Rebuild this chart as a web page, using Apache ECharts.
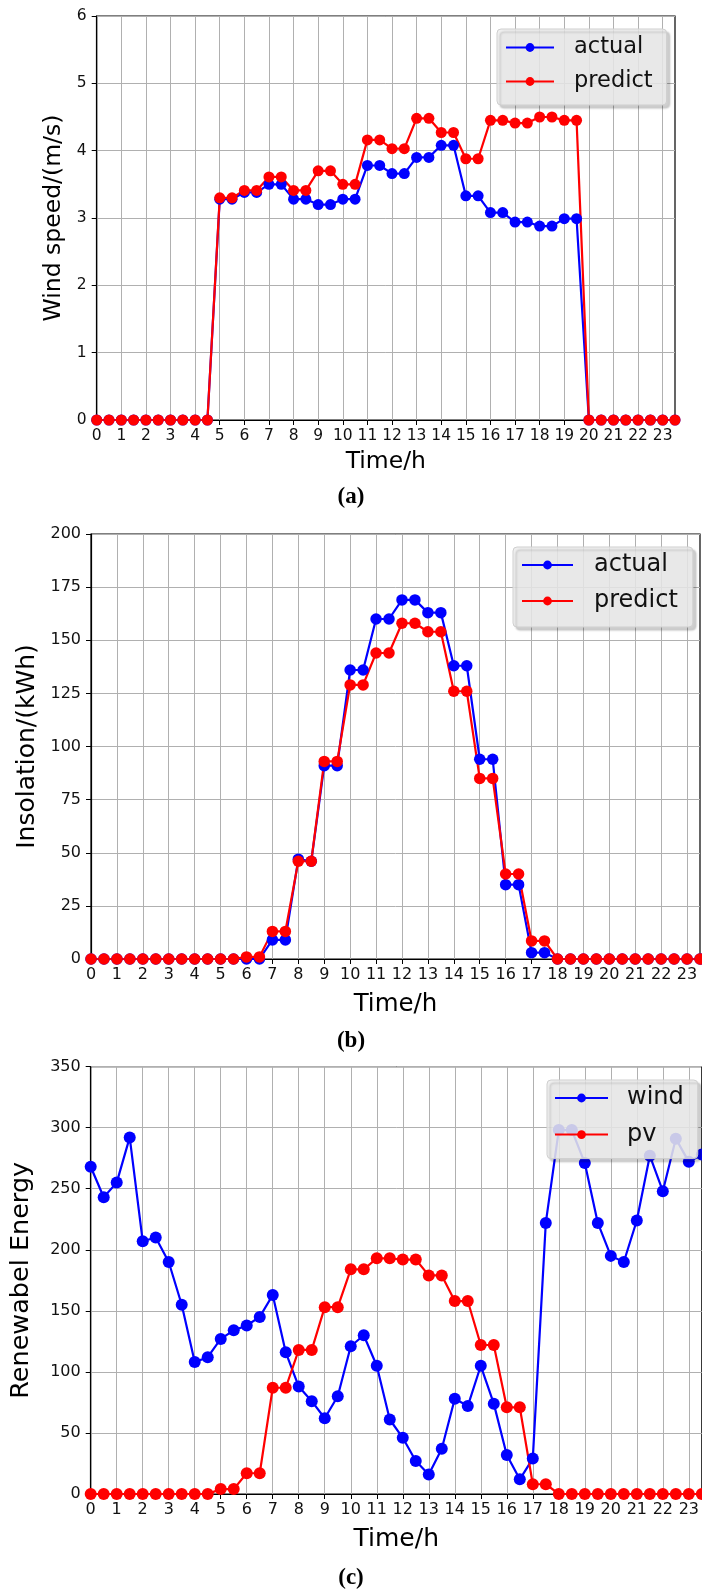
<!DOCTYPE html>
<html>
<head>
<meta charset="utf-8">
<script src="https://cdn.jsdelivr.net/npm/echarts@6/dist/echarts.min.js"></script>
<style>
html,body{margin:0;padding:0;background:#fff;}
#chart{width:702px;height:1593px;}
</style>
</head>
<body>
<div id="chart"></div>
<script>
// ---- data ----
const hours = ['0','0.5','1','1.5','2','2.5','3','3.5','4','4.5','5','5.5','6','6.5','7','7.5','8','8.5','9','9.5',
  '10','10.5','11','11.5','12','12.5','13','13.5','14','14.5','15','15.5','16','16.5','17','17.5','18','18.5','19','19.5',
  '20','20.5','21','21.5','22','22.5','23','23.5'];

const windActual = [0,0,0,0,0,0,0,0,0,0,
  3.28,3.28,3.38,3.38,3.50,3.50,3.28,3.28,3.20,3.20,
  3.28,3.28,3.78,3.78,3.66,3.66,3.90,3.90,4.08,4.08,
  3.33,3.33,3.08,3.08,2.94,2.94,2.88,2.88,2.99,2.99,
  0,0,0,0,0,0,0,0];
const windPredict = [0,0,0,0,0,0,0,0,0,0,
  3.30,3.30,3.41,3.41,3.61,3.61,3.41,3.41,3.70,3.70,
  3.50,3.50,4.16,4.16,4.03,4.03,4.48,4.48,4.27,4.27,
  3.88,3.88,4.45,4.45,4.41,4.41,4.50,4.50,4.45,4.45,
  0,0,0,0,0,0,0,0];

const insolActual = [0,0,0,0,0,0,0,0,0,0,
  0,0,0,0,9,9,47,46,91,91,
  136,136,160,160,169,169,163,163,138,138,
  94,94,35,35,3,3,0,0,0,0,
  0,0,0,0,0,0,0,0];
const insolPredict = [0,0,0,0,0,0,0,0,0,0,
  0,0,1,1,13,13,46,46,93,93,
  129,129,144,144,158,158,154,154,126,126,
  85,85,40,40,8.5,8.5,0,0,0,0,
  0,0,0,0,0,0,0,0];

const windEnergy = [268,243,255,292,207,210,190,155,108,112,
  127,134,138,145,163,116,88,76,62,80,
  121,130,105,61,46,27,16,37,78,72,
  105,74,32,12,29,222,298,298,271,222,
  195,190,224,277,248,291,272,278];
const pvEnergy = [0,0,0,0,0,0,0,0,0,0,
  4,4,17,17,87,87,118,118,153,153,
  184,184,193,193,192,192,179,179,158,158,
  122,122,71,71,8,8,0,0,0,0,
  0,0,0,0,0,0,0,0];

const yMaxA = 6, yStepA = 1;
const yMaxB = 200, yStepB = 25;
const yMaxC = 350, yStepC = 50;

// ---- chart ----
const FONT = 'DejaVu Sans';
const BLUE = '#0000ff', RED = '#ff0000';

function xAxisOf(gi, tickFs, nameFs, nameGap) {
  return {
    type: 'category', gridIndex: gi, data: hours, boundaryGap: false,
    name: 'Time/h', nameLocation: 'middle', nameGap: nameGap,
    nameTextStyle: {fontFamily: FONT, fontSize: nameFs, color: '#000'},
    axisLine: {show: true, onZero: false, lineStyle: {color: '#000', width: 1.2}},
    axisTick: {show: true, interval: 1, inside: false, length: 5, lineStyle: {color: '#000', width: 1}},
    axisLabel: {interval: 1, margin: 8, fontFamily: FONT, fontSize: tickFs, color: '#111'},
    splitLine: {show: true, interval: 1, lineStyle: {color: '#b0b0b0', width: 1}}
  };
}
function yAxisOf(gi, max, step, name, tickFs, nameFs, nameGap) {
  return {
    type: 'value', gridIndex: gi, min: 0, max: max, interval: step,
    name: name, nameLocation: 'middle', nameGap: nameGap,
    nameTextStyle: {fontFamily: FONT, fontSize: nameFs, color: '#000'},
    axisLine: {show: true, onZero: false, lineStyle: {color: '#000', width: 1.2}},
    axisTick: {show: true, inside: false, length: 5, lineStyle: {color: '#000', width: 1}},
    axisLabel: {margin: 10, fontFamily: FONT, fontSize: tickFs, color: '#111'},
    splitLine: {show: true, lineStyle: {color: '#b0b0b0', width: 1}}
  };
}
function lineSeries(name, data, color, gi, size) {
  return {
    type: 'line', name: name, data: data, xAxisIndex: gi, yAxisIndex: gi,
    symbol: 'circle', symbolSize: size, showAllSymbol: true,
    lineStyle: {color: color, width: 2.2}, itemStyle: {color: color},
    emphasis: {disabled: true}, clip: true
  };
}
function legendOf(names, left, top, fs, itemW, gap, pad, textPad) {
  return {
    data: names, orient: 'vertical', left: left, top: top,
    itemWidth: itemW, itemHeight: 11, itemGap: gap, padding: pad,
    backgroundColor: 'rgba(236,236,236,0.85)', borderColor: '#cfcfcf', borderWidth: 1, borderRadius: 4,
    shadowColor: 'rgba(0,0,0,0.22)', shadowBlur: 2, shadowOffsetX: 3, shadowOffsetY: 3,
    selectedMode: false,
    textStyle: {fontFamily: FONT, fontSize: fs, color: '#111', lineHeight: fs, padding: [0,0,0,textPad]}
  };
}

const chart = echarts.init(document.getElementById('chart'), null, {renderer: 'canvas'});
const gridStyle = {show: true, borderColor: '#000', borderWidth: 1.2, backgroundColor: 'transparent', containLabel: false};
chart.setOption({
  animation: false,
  backgroundColor: '#fff',
  grid: [
    Object.assign({left: 96.7, top: 16, width: 578.3, height: 404}, gridStyle),
    Object.assign({left: 91, top: 534, width: 609, height: 425}, gridStyle),
    Object.assign({left: 90.7, top: 1066.6, width: 614.8, height: 427.4}, gridStyle)
  ],
  xAxis: [
    xAxisOf(0, 15.5, 23.5, 30),
    xAxisOf(1, 16, 24.5, 33),
    xAxisOf(2, 16, 25, 33)
  ],
  yAxis: [
    yAxisOf(0, yMaxA, yStepA, 'Wind speed/(m/s)', 15.5, 23.5, 31),
    yAxisOf(1, yMaxB, yStepB, 'Insolation/(kWh)', 16, 25, 51.5),
    yAxisOf(2, yMaxC, yStepC, 'Renewabel Energy', 16, 25.5, 56)
  ],
  legend: [
    legendOf(['actual','predict'], 497, 29, 22.5, 48, 11, [7,14,12,8], 15),
    legendOf(['actual','predict'], 513, 547, 24, 51, 12, [6,15,14,8], 16),
    legendOf(['wind','pv'], 547, 1080, 24, 53, 12.6, [6,14,12,7], 14)
  ],
  series: [
    lineSeries('actual', windActual, BLUE, 0, 11),
    lineSeries('predict', windPredict, RED, 0, 11),
    lineSeries('actual', insolActual, BLUE, 1, 11.5),
    lineSeries('predict', insolPredict, RED, 1, 11.5),
    lineSeries('wind', windEnergy, BLUE, 2, 12),
    lineSeries('pv', pvEnergy, RED, 2, 12)
  ],
  graphic: [
    {type: 'text', left: 'center', top: 486, style: {text: '(a)', font: 'bold 23px "Liberation Serif"', fill: '#000'}},
    {type: 'text', left: 'center', top: 1030, style: {text: '(b)', font: 'bold 23px "Liberation Serif"', fill: '#000'}},
    {type: 'text', left: 'center', top: 1567, style: {text: '(c)', font: 'bold 23px "Liberation Serif"', fill: '#000'}}
  ]
});
</script>
</body>
</html>
